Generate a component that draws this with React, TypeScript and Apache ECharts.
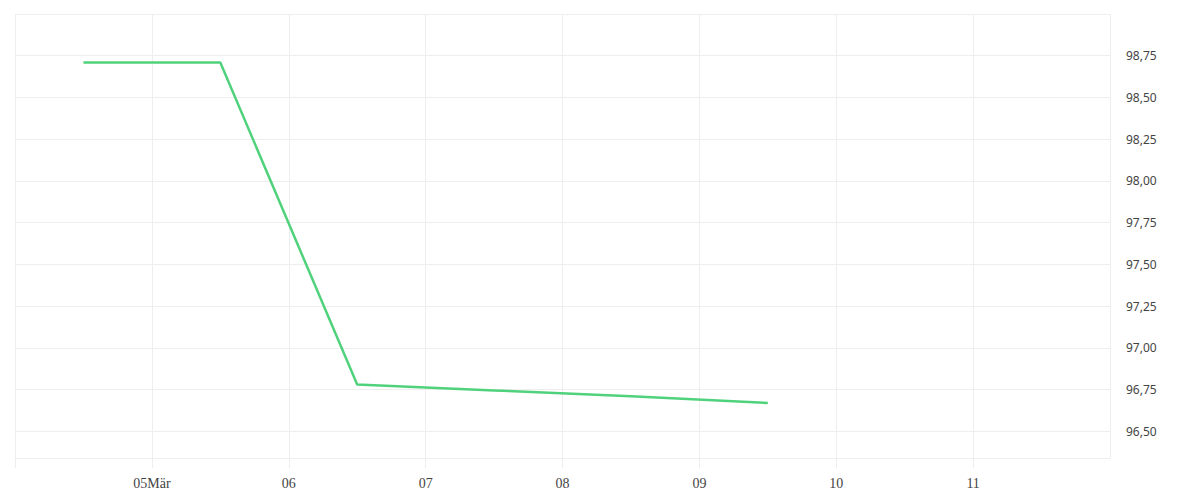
import React, { useEffect, useRef } from 'react';
import * as echarts from 'echarts';

// Kursverlauf, je ein Wert pro Tag (12:00)
const dates = ['2024-03-04T12:00:00', '2024-03-05T12:00:00', '2024-03-06T12:00:00', '2024-03-07T12:00:00', '2024-03-08T12:00:00', '2024-03-09T12:00:00'];
const prices = [98.71, 98.71, 96.78, 96.745, 96.71, 96.67];

const axisStart = '2024-03-04T00:00:00';
const axisEnd = '2024-03-12T00:00:00';
const monthNames = ['Jan', 'Feb', 'Mär', 'Apr', 'Mai', 'Jun', 'Jul', 'Aug', 'Sep', 'Okt', 'Nov', 'Dez'];

const yMin = 96.34;
const yMax = 99;
const yGridValues = [96.5, 96.75, 97, 97.25, 97.5, 97.75, 98, 98.25, 98.5, 98.75, 99];
const yLabelValues = [96.5, 96.75, 97, 97.25, 97.5, 97.75, 98, 98.25, 98.5, 98.75];

const DAY = 24 * 3600 * 1000;

const App: React.FC = () => {
    const chartRef = useRef<HTMLDivElement>(null);

    useEffect(() => {
        if (!chartRef.current) return;
        document.body.style.margin = '0';
        const chart = echarts.init(chartRef.current, undefined, { renderer: 'svg' });
        const startMs = new Date(axisStart).getTime();
        const endMs = new Date(axisEnd).getTime();

        chart.setOption({
            animation: false,
            grid: { left: 15, right: 90, top: 14, bottom: 42 },
            xAxis: {
                type: 'time',
                min: axisStart,
                max: axisEnd,
                minInterval: DAY,
                maxInterval: DAY,
                axisLine: { lineStyle: { color: '#eeeeee' } },
                axisTick: { show: true, length: 10, lineStyle: { color: '#eeeeee' } },
                splitLine: { show: true, lineStyle: { color: '#eeeeee' } },
                axisLabel: {
                    color: '#444',
                    fontFamily: 'Liberation Serif, serif',
                    fontSize: 14,
                    margin: 18,
                    formatter: (value: number) => {
                        if (value <= startMs || value >= endMs) return '';
                        const d = new Date(value);
                        const day = String(d.getDate()).padStart(2, '0');
                        return value === startMs + DAY ? day + monthNames[d.getMonth()] : day;
                    },
                },
            },
            yAxis: {
                type: 'value',
                position: 'right',
                min: yMin,
                max: yMax,
                axisLine: { show: false },
                axisTick: { show: false, customValues: yGridValues },
                splitLine: { lineStyle: { color: '#eeeeee' } },
                axisLabel: {
                    customValues: yLabelValues,
                    color: '#444',
                    fontFamily: 'Noto Sans, sans-serif',
                    fontSize: 12,
                    margin: 16,
                    padding: [6, 0, 0, 0],
                    formatter: (v: number) => v.toFixed(2).replace('.', ','),
                },
            },
            series: [
                {
                    type: 'line',
                    data: dates.map((d, i) => [d, prices[i]]),
                    showSymbol: false,
                    lineStyle: { color: '#50d27c', width: 2.5 },
                    itemStyle: { color: '#50d27c' },
                },
            ],
        });

        return () => chart.dispose();
    }, []);

    return <div ref={chartRef} style={{ width: 1200, height: 500 }} />;
};

export default App;
